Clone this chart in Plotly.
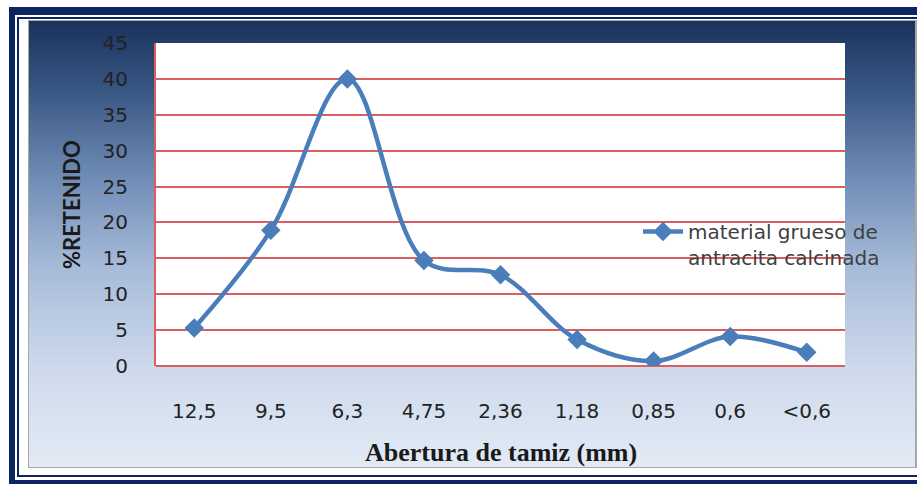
import base64
import plotly.graph_objects as go

# ---- data ----
categories = ["12,5", "9,5", "6,3", "4,75", "2,36", "1,18", "0,85", "0,6", "<0,6"]
retenido = [5.3, 18.9, 40.0, 14.7, 12.7, 3.7, 0.7, 4.1, 1.9]
y_ticks = [0, 5, 10, 15, 20, 25, 30, 35, 40, 45]
series_name = "material grueso de<br>antracita calcinada"
x_title = "Abertura de tamiz (mm)"
y_title = "%RETENIDO"

# ---- layout geometry (pixels) ----
W, H = 917, 484
L, R, T, B = 156, 845, 43, 366
pw, ph = R - L, B - T


def px(x):
    return (x - L) / pw


def py(y):
    return (B - y) / ph


svg = """<svg xmlns="http://www.w3.org/2000/svg" width="917" height="484" viewBox="0 0 917 484" preserveAspectRatio="none">
<defs><linearGradient id="g" x1="0" y1="0" x2="0" y2="1">
<stop offset="0" stop-color="#1a325c"/>
<stop offset="0.15" stop-color="#375581"/>
<stop offset="0.35" stop-color="#6f8cb5"/>
<stop offset="0.55" stop-color="#a6bbd9"/>
<stop offset="0.78" stop-color="#cedaec"/>
<stop offset="1" stop-color="#e2eaf5"/>
</linearGradient></defs>
<rect x="0" y="0" width="917" height="484" fill="#ffffff"/>
<rect x="9" y="7" width="1000" height="600" fill="#0c2461"/>
<rect x="15" y="15" width="1000" height="465" fill="#ffffff"/>
<rect x="17" y="17" width="1000" height="460" fill="#0c2461"/>
<rect x="19" y="19" width="1000" height="456" fill="#ffffff"/>
<rect x="28" y="20" width="889" height="448" fill="#a8a8a8"/>
<rect x="29" y="21" width="886" height="446" fill="url(#g)"/>
</svg>"""
src = "data:image/svg+xml;base64," + base64.b64encode(svg.encode()).decode()

fig = go.Figure()
fig.add_trace(go.Scatter(
    x=categories, y=retenido, name=series_name,
    mode="lines+markers",
    line=dict(color="#4a7ebb", width=4.5, shape="spline", smoothing=1),
    marker=dict(symbol="diamond", size=15, color="#4a7ebb"),
    showlegend=True,
))

grid_red = "#dc5e5e"
tick_font = dict(family="DejaVu Sans", size=20, color="#222222")
fig.update_layout(
    width=W, height=H,
    margin=dict(l=L, r=W - R, t=T, b=H - B, pad=0),
    paper_bgcolor="#ffffff",
    plot_bgcolor="rgba(0,0,0,0)",
    showlegend=True,
    legend=dict(
        x=px(638), y=py(212), xanchor="left", yanchor="top",
        bgcolor="rgba(0,0,0,0)", valign="top",
        font=dict(family="DejaVu Sans", size=20, color="#404040"),
        itemwidth=40,
    ),
    images=[dict(
        source=src, xref="paper", yref="paper",
        x=px(0), y=py(0), sizex=W / pw, sizey=H / ph,
        xanchor="left", yanchor="top", sizing="stretch", layer="below",
    )],
    shapes=[dict(
        type="rect", xref="paper", yref="paper", x0=0, x1=1, y0=0, y1=1,
        fillcolor="#ffffff", line=dict(width=0), layer="below",
    )],
    xaxis=dict(
        type="category", range=[-0.5, len(categories) - 0.5],
        showgrid=False, showline=False, zeroline=False,
        ticks="outside", ticklen=27, tickcolor="rgba(0,0,0,0)",
        tickfont=tick_font,
    ),
    yaxis=dict(
        range=[0, 45], tickvals=y_ticks,
        showgrid=True, gridcolor=grid_red, gridwidth=2,
        zeroline=True, zerolinecolor=grid_red, zerolinewidth=2,
        showline=True, linecolor=grid_red, linewidth=2,
        ticks="outside", ticklen=22, tickcolor="rgba(0,0,0,0)",
        tickfont=tick_font,
    ),
    annotations=[
        dict(text=f"<b>{y_title}</b>", xref="paper", yref="paper",
             x=px(71), y=py(205), textangle=-90, showarrow=False,
             font=dict(family="Lato", size=22, color="#1a1a1a"),
             xanchor="center", yanchor="middle"),
        dict(text=f"<b>{x_title}</b>", xref="paper", yref="paper",
             x=px(501), y=py(452), showarrow=False,
             font=dict(family="Liberation Serif", size=26, color="#1a1a1a"),
             xanchor="center", yanchor="middle"),
    ],
)

fig.write_html("out.html")
